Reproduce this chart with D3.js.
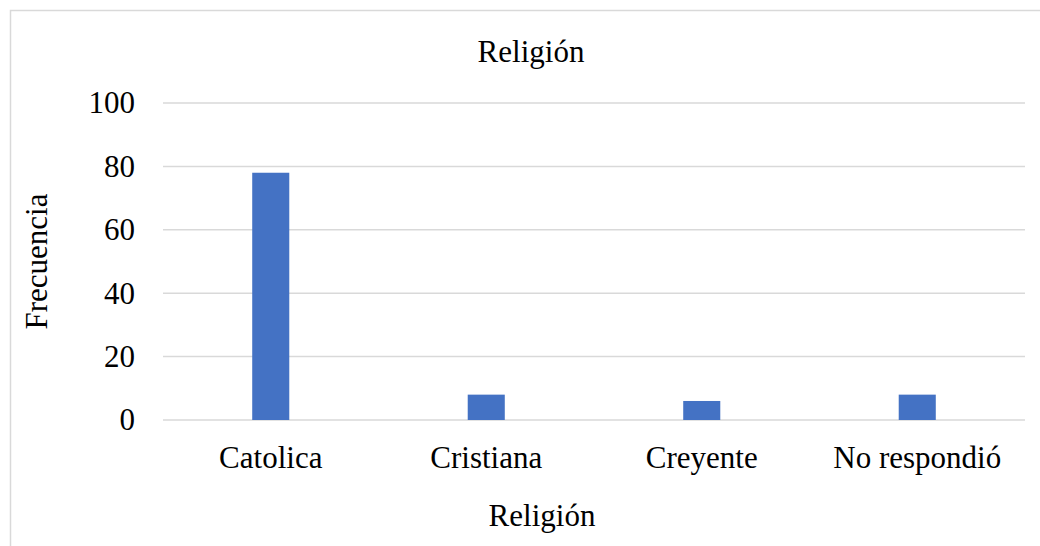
<!DOCTYPE html>
<html>
<head>
<meta charset="utf-8">
<script src="https://cdn.jsdelivr.net/npm/d3@7"></script>
<style>
  body { margin: 0; background: #fff; }
  svg text { font-family: "Liberation Serif", "Times New Roman", serif; fill: #000; }
</style>
</head>
<body>
<svg id="chart"></svg>
<script>
var categories = ["Catolica", "Cristiana", "Creyente", "No respondió"];
var counts = [78, 8, 6, 8];
var yTicks = [0, 20, 40, 60, 80, 100];

var w = 1040, h = 546;
var plotLeft = 163, plotRight = 1025, plotTop = 103, plotBottom = 420;
var fontSize = "31px";

var svg = d3.select("#chart").attr("width", w).attr("height", h);

// outer frame
svg.append("rect")
  .attr("x", 10.5).attr("y", 10.5)
  .attr("width", 1060).attr("height", 560)
  .attr("fill", "none").attr("stroke", "#d9d9d9").attr("stroke-width", 1.5);

var x = d3.scaleBand().domain(categories).range([plotLeft, plotRight]).padding(0);
var y = d3.scaleLinear().domain([0, 100]).range([plotBottom, plotTop]);
var barW = x.step() * 0.172;

// gridlines
svg.append("g").selectAll("line")
  .data(yTicks)
  .enter()
  .append("line")
  .attr("x1", plotLeft).attr("x2", plotRight)
  .attr("y1", function(d){ return y(d); })
  .attr("y2", function(d){ return y(d); })
  .attr("stroke", "#d9d9d9").attr("stroke-width", 1.5);

var yAxis = d3.axisLeft(y).tickValues(yTicks).tickSize(0).tickPadding(28);
var gy = svg.append("g").attr("transform", "translate(" + plotLeft + ",0)").call(yAxis);
gy.select(".domain").remove();
gy.selectAll("text").attr("font-size", fontSize).attr("font-family", "Liberation Serif").attr("fill", "#000");

svg.selectAll("rect.bar")
  .data(counts)
  .enter()
  .append("rect")
  .attr("class", "bar")
  .attr("x", function(d, i){ return x(categories[i]) + x.bandwidth()/2 - barW/2; })
  .attr("y", function(d){ return y(d); })
  .attr("width", barW)
  .attr("height", function(d){ return y(0) - y(d); })
  .attr("fill", "#4472c4");

var xAxis = d3.axisBottom(x).tickSize(0).tickPadding(0);
var gx = svg.append("g").attr("transform", "translate(0," + plotBottom + ")").call(xAxis);
gx.select(".domain").remove();
gx.selectAll("text")
  .attr("dy", null)
  .attr("y", 48)
  .attr("font-size", fontSize).attr("font-family", "Liberation Serif").attr("fill", "#000");

svg.append("text")
  .attr("x", 531).attr("y", 62)
  .attr("text-anchor", "middle")
  .attr("font-size", fontSize)
  .text("Religión");

svg.append("text")
  .attr("x", 542).attr("y", 526)
  .attr("text-anchor", "middle")
  .attr("font-size", fontSize)
  .text("Religión");

svg.append("text")
  .attr("transform", "translate(47," + ((plotTop + plotBottom)/2) + ") rotate(-90)")
  .attr("text-anchor", "middle")
  .attr("font-size", fontSize)
  .text("Frecuencia");
</script>
</body>
</html>
